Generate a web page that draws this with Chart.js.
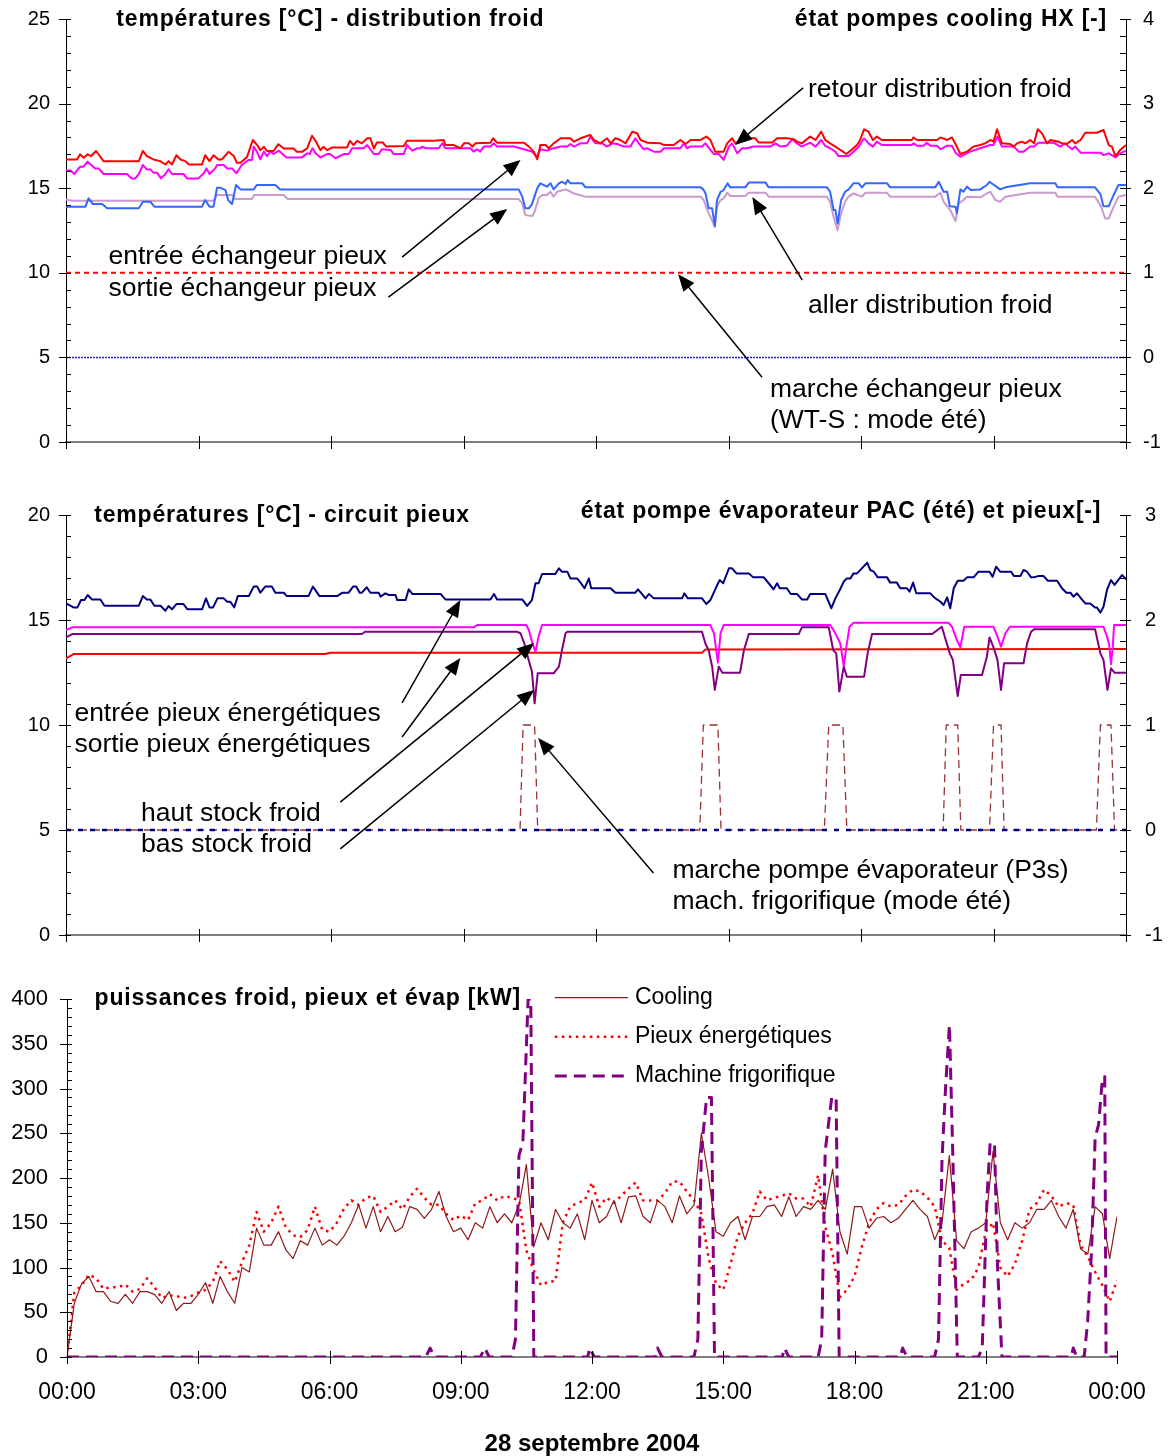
<!DOCTYPE html>
<html>
<head>
<meta charset="utf-8">
<script src="https://cdn.jsdelivr.net/npm/chart.js@4.4.1/dist/chart.umd.min.js"></script>
<style>
  body { margin: 0; background: #fff; width: 1168px; height: 1456px; position: relative; overflow: hidden; }
  canvas { position: absolute; left: 0; }
</style>
</head>
<body>
<canvas id="c1" width="1168" height="470" style="top:0px"></canvas>
<canvas id="c2" width="1168" height="470" style="top:490px"></canvas>
<canvas id="c3" width="1168" height="481" style="top:975px"></canvas>
<script>
// ---- panel 1 : températures distribution froid, [heure, °C] ----
var retourDistrib = [[0,16.7],[0.25,16.7],[0.32,17.0],[0.4,16.8],[0.49,17.0],[0.57,16.9],[0.68,17.2],[0.85,16.6],[1.65,16.6],[1.74,17.2],[1.83,16.9],[1.98,16.7],[2.13,16.6],[2.25,16.4],[2.32,16.6],[2.4,16.4],[2.5,16.95],[2.59,16.7],[2.7,16.6],[2.78,16.4],[3.08,16.4],[3.15,16.95],[3.25,16.6],[3.34,16.95],[3.45,16.7],[3.53,16.7],[3.68,17.15],[3.8,16.9],[3.87,16.5],[3.95,16.5],[4.1,16.85],[4.23,17.85],[4.33,17.55],[4.4,17.25],[4.48,17.45],[4.55,17.2],[4.7,17.2],[4.81,17.6],[4.93,17.35],[5.15,17.35],[5.23,17.15],[5.34,17.15],[5.46,17.35],[5.57,18.1],[5.65,17.8],[5.76,17.25],[5.83,17.45],[5.91,17.25],[6.02,17.4],[6.36,17.4],[6.43,17.8],[6.51,17.55],[6.59,17.8],[6.7,17.65],[6.82,17.95],[6.89,17.95],[6.97,17.35],[7.04,17.7],[7.17,17.7],[7.25,17.46],[7.65,17.5],[7.72,17.81],[8.33,17.81],[8.55,17.85],[8.59,17.55],[8.78,17.55],[8.93,17.36],[9.01,17.65],[9.12,17.65],[9.2,17.46],[9.27,17.65],[9.61,17.69],[9.67,17.95],[9.76,17.69],[10.37,17.69],[10.48,17.46],[10.59,17.16],[10.67,16.71],[10.74,17.55],[10.86,17.55],[10.93,17.36],[11.04,17.65],[11.2,17.95],[11.42,17.95],[11.5,17.75],[11.65,17.95],[11.87,18.15],[11.95,17.85],[12.1,17.65],[12.25,17.95],[12.33,17.65],[12.44,17.95],[12.55,17.85],[12.67,17.65],[12.82,18.34],[12.93,18.25],[13.01,17.85],[13.16,17.69],[13.46,17.65],[13.54,17.55],[13.76,17.55],[13.91,17.85],[14.03,17.61],[14.14,17.85],[14.37,17.85],[14.5,18.05],[14.59,17.85],[14.7,17.16],[14.89,17.16],[14.97,17.65],[15.08,17.95],[15.16,17.65],[15.27,17.85],[15.42,17.95],[15.61,17.95],[15.68,17.7],[15.99,17.7],[16.1,17.95],[16.32,17.95],[16.47,17.9],[16.55,17.75],[16.66,17.65],[16.85,18.05],[16.97,17.85],[17.1,18.34],[17.19,17.85],[17.3,17.65],[17.42,17.46],[17.53,17.26],[17.67,17.02],[17.8,17.3],[17.91,17.55],[17.98,17.85],[18.07,18.48],[18.17,18.34],[18.27,17.85],[18.36,18.05],[18.47,17.85],[19.15,17.85],[19.19,18.0],[19.27,17.85],[19.72,17.85],[19.8,18.0],[19.95,17.85],[20.06,18.0],[20.17,17.46],[20.25,17.02],[20.4,17.16],[20.55,17.46],[20.7,17.55],[20.81,17.65],[20.93,17.85],[21.0,17.75],[21.08,18.48],[21.19,17.65],[21.38,17.61],[21.46,17.46],[21.53,17.65],[21.64,17.75],[21.72,17.65],[21.83,17.85],[21.92,17.65],[22.0,18.48],[22.1,18.24],[22.21,17.65],[22.29,17.85],[22.47,17.75],[22.55,17.65],[22.66,17.61],[22.78,17.85],[22.85,17.65],[22.97,17.85],[23.08,18.28],[23.34,18.28],[23.49,18.44],[23.61,17.55],[23.68,17.46],[23.76,16.9],[23.87,17.26],[24,17.55]];
var entreeEchangeur = [[0,16.04],[0.1,16.04],[0.19,15.84],[0.32,16.27],[0.4,16.27],[0.49,16.57],[0.66,16.17],[0.74,16.17],[0.85,15.84],[1.38,15.84],[1.49,15.58],[1.57,15.58],[1.65,15.84],[1.74,16.37],[1.83,16.11],[1.91,16.11],[1.98,15.92],[2.06,15.92],[2.15,15.58],[2.25,15.84],[2.32,16.11],[2.4,15.84],[2.66,15.84],[2.74,15.58],[3.0,15.58],[3.12,15.88],[3.18,16.17],[3.25,15.84],[3.38,16.17],[3.42,16.37],[3.57,16.37],[3.65,16.17],[3.76,16.17],[3.86,15.88],[3.98,16.37],[4.13,16.67],[4.21,16.67],[4.25,17.46],[4.32,17.16],[4.4,16.71],[4.48,17.16],[4.55,16.9],[4.63,17.16],[4.7,17.02],[4.82,17.22],[4.99,16.82],[5.34,16.82],[5.46,17.06],[5.52,17.02],[5.58,17.36],[5.65,17.06],[5.76,16.82],[5.91,17.02],[5.98,17.02],[6.1,16.77],[6.29,17.02],[6.4,17.02],[6.48,17.36],[6.74,17.36],[6.82,17.55],[6.97,17.02],[7.08,17.02],[7.15,17.3],[7.35,17.26],[7.42,17.02],[7.65,17.02],[7.72,17.55],[7.84,17.22],[7.95,17.36],[8.03,17.36],[8.06,17.46],[8.14,17.36],[8.44,17.36],[8.52,17.65],[8.59,17.36],[9.16,17.36],[9.23,17.16],[9.31,17.3],[9.38,17.16],[9.46,17.46],[9.61,17.46],[9.69,17.65],[9.76,17.46],[10.14,17.46],[10.37,17.3],[10.55,17.16],[10.67,16.86],[10.74,17.3],[10.89,17.22],[11.04,17.36],[11.2,17.46],[11.35,17.46],[11.42,17.61],[11.5,17.46],[11.65,17.65],[11.8,17.65],[11.87,18.05],[11.99,17.65],[12.14,17.65],[12.25,17.46],[12.37,17.65],[12.48,17.61],[12.63,17.46],[12.78,17.46],[12.89,17.95],[12.97,17.65],[13.08,17.3],[13.16,17.36],[13.31,17.16],[13.46,17.16],[13.54,17.36],[13.91,17.36],[13.99,17.65],[14.06,17.36],[14.14,17.46],[14.4,17.46],[14.48,17.65],[14.59,17.26],[14.67,17.02],[14.78,17.02],[14.89,16.67],[15.01,17.46],[15.08,17.65],[15.2,17.06],[15.31,17.36],[15.42,17.36],[15.57,17.46],[15.95,17.46],[16.06,17.65],[16.18,17.46],[16.32,17.51],[16.44,17.89],[16.55,17.65],[16.66,17.46],[16.85,17.69],[16.97,17.46],[17.1,17.85],[17.19,17.5],[17.3,17.36],[17.42,17.16],[17.49,16.9],[17.72,16.9],[17.83,17.16],[17.95,17.46],[18.07,17.95],[18.17,17.65],[18.27,17.46],[18.36,17.75],[18.47,17.55],[19.15,17.55],[19.19,17.65],[19.27,17.51],[19.42,17.51],[19.49,17.69],[19.57,17.51],[19.72,17.51],[19.8,17.3],[19.95,17.51],[20.06,17.51],[20.14,17.1],[20.25,16.86],[20.32,16.96],[20.47,17.16],[20.7,17.36],[20.93,17.55],[21.0,17.55],[21.09,18.05],[21.19,17.46],[21.46,17.46],[21.57,17.16],[21.68,17.16],[21.83,17.46],[21.92,17.46],[22.02,17.69],[22.36,17.69],[22.51,17.46],[22.63,17.65],[22.7,17.46],[22.78,17.3],[22.85,17.46],[22.97,17.1],[23.42,17.1],[23.49,16.96],[23.61,17.06],[23.76,16.82],[23.87,17.06],[24,17.22]];
var allerDistrib = [[0,13.91],[0.44,13.91],[0.51,14.4],[0.61,14.06],[0.82,14.06],[0.93,13.81],[1.65,13.81],[1.74,14.2],[1.91,14.2],[2.0,13.91],[3.08,13.91],[3.15,14.3],[3.25,13.91],[3.34,13.91],[3.42,15.03],[3.49,15.03],[3.61,14.89],[3.67,14.3],[3.76,14.06],[3.85,15.19],[3.95,14.93],[4.25,14.93],[4.32,15.19],[4.74,15.19],[4.85,14.93],[10.25,14.93],[10.33,14.5],[10.4,13.81],[10.48,13.81],[10.55,14.06],[10.67,14.99],[10.74,15.29],[10.89,15.09],[10.97,15.29],[11.04,14.93],[11.16,15.29],[11.23,15.38],[11.31,15.25],[11.36,15.48],[11.42,15.29],[11.69,15.29],[11.76,15.05],[14.37,15.05],[14.43,14.93],[14.48,14.69],[14.55,13.81],[14.63,13.81],[14.69,12.76],[14.74,14.3],[14.82,14.79],[14.89,14.89],[14.98,15.29],[15.04,15.05],[15.38,15.05],[15.46,15.33],[15.84,15.33],[15.91,15.05],[17.23,15.05],[17.3,14.79],[17.38,13.71],[17.42,13.71],[17.47,12.92],[17.55,14.3],[17.64,14.79],[17.72,14.93],[17.83,15.29],[17.95,15.29],[18.02,15.05],[18.1,15.29],[18.59,15.29],[18.66,15.05],[19.68,15.05],[19.76,15.38],[19.87,14.79],[19.95,14.79],[20.01,13.94],[20.14,13.91],[20.17,13.51],[20.25,14.93],[20.32,14.79],[20.4,15.09],[20.49,14.89],[20.7,14.93],[20.85,15.19],[20.91,15.38],[21.15,14.93],[21.27,15.05],[21.83,15.29],[22.4,15.29],[22.45,15.05],[23.3,15.05],[23.42,14.65],[23.49,13.94],[23.61,13.94],[23.72,14.6],[23.83,15.19],[24,15.19]];
var sortieEchangeur = [[0,14.34],[0.14,14.26],[3.34,14.26],[3.42,14.6],[3.76,14.6],[3.83,14.36],[4.21,14.36],[4.26,14.6],[4.93,14.6],[5.02,14.36],[10.25,14.36],[10.33,14.1],[10.4,13.41],[10.55,13.35],[10.61,13.6],[10.7,14.4],[10.78,14.6],[10.89,14.6],[10.97,14.79],[11.04,14.5],[11.12,14.79],[11.31,14.93],[11.38,14.85],[11.5,14.69],[11.76,14.5],[14.37,14.5],[14.44,14.3],[14.52,13.71],[14.59,13.31],[14.69,12.72],[14.74,13.91],[14.82,14.3],[14.89,14.4],[14.97,14.73],[15.04,14.54],[15.38,14.54],[15.46,14.73],[15.84,14.73],[15.91,14.5],[17.23,14.5],[17.3,14.2],[17.38,13.31],[17.47,12.52],[17.55,13.51],[17.64,14.2],[17.72,14.5],[17.83,14.69],[18.02,14.5],[18.1,14.73],[18.59,14.73],[18.66,14.5],[19.68,14.5],[19.8,14.73],[19.87,14.2],[20.02,13.71],[20.14,13.06],[20.21,14.1],[20.32,14.3],[20.4,14.5],[20.7,14.46],[20.85,14.69],[20.93,14.79],[21.04,14.3],[21.15,14.2],[21.27,14.5],[21.83,14.73],[22.4,14.73],[22.45,14.5],[23.3,14.5],[23.42,14.0],[23.53,13.21],[23.61,13.21],[23.72,13.91],[23.83,14.5],[24,14.6]];
// états pompes (axe de droite)
var marcheEchangeur = [[0,1],[24,1]];
var pompesCooling = [[0,0],[24,0]];

// ---- panel 2 : circuit pieux ----
var entreePieux = [[0,15.79],[0.17,15.6],[0.26,15.6],[0.34,15.95],[0.42,15.95],[0.49,16.19],[0.59,15.98],[0.78,15.98],[0.87,15.68],[1.65,15.68],[1.74,16.14],[1.83,15.98],[1.91,15.98],[2.0,15.68],[2.14,15.68],[2.25,15.44],[2.32,15.67],[2.4,15.51],[2.5,15.76],[2.66,15.76],[2.75,15.51],[3.08,15.51],[3.17,16.03],[3.25,15.6],[3.33,15.6],[3.43,16.03],[3.57,16.03],[3.65,15.87],[3.72,15.87],[3.81,15.6],[3.89,16.14],[4.14,16.14],[4.25,16.59],[4.33,16.59],[4.4,16.3],[4.51,16.59],[4.66,16.59],[4.74,16.3],[4.93,16.3],[5.0,16.14],[5.49,16.14],[5.59,16.59],[5.74,16.14],[6.14,16.14],[6.26,16.3],[6.4,16.3],[6.5,16.59],[6.57,16.59],[6.65,16.3],[6.7,16.3],[6.81,16.56],[6.89,16.3],[7.08,16.3],[7.12,16.11],[7.23,16.27],[7.31,16.19],[7.46,16.19],[7.5,15.95],[7.69,15.95],[7.76,16.46],[7.84,16.24],[8.48,16.24],[8.59,15.98],[9.61,15.98],[9.69,16.24],[9.76,15.98],[10.33,15.98],[10.44,15.67],[10.55,15.95],[10.63,16.75],[10.7,16.75],[10.78,17.19],[11.08,17.19],[11.16,17.46],[11.23,17.3],[11.35,17.3],[11.42,16.98],[11.57,16.98],[11.65,16.78],[11.74,16.51],[11.84,16.98],[11.89,16.51],[12.33,16.51],[12.44,16.3],[12.89,16.3],[12.95,16.46],[13.04,16.24],[13.12,16.03],[13.2,16.24],[13.31,16.03],[13.95,16.03],[14.0,16.27],[14.08,16.03],[14.4,16.03],[14.5,15.76],[14.59,15.95],[14.71,16.51],[14.8,16.9],[14.88,16.75],[15.01,17.46],[15.08,17.46],[15.18,17.22],[15.46,17.22],[15.56,17.03],[15.8,17.03],[15.91,16.75],[16.02,16.46],[16.1,16.75],[16.16,16.51],[16.32,16.51],[16.41,16.24],[16.55,16.24],[16.66,15.98],[16.78,15.98],[16.85,16.24],[17.19,16.24],[17.33,15.56],[17.42,16.03],[17.52,16.43],[17.61,16.83],[17.68,16.98],[17.76,16.98],[17.83,17.22],[17.91,17.22],[18.02,17.46],[18.14,17.73],[18.21,17.38],[18.29,17.3],[18.38,17.03],[18.59,17.03],[18.66,16.78],[18.81,16.78],[18.89,16.51],[19.04,16.51],[19.1,16.35],[19.18,16.78],[19.25,16.27],[19.57,16.27],[19.64,16.11],[19.72,15.98],[19.8,15.87],[19.87,15.71],[19.95,16.08],[20.02,15.56],[20.1,16.51],[20.19,16.87],[20.32,16.87],[20.4,17.03],[20.55,17.03],[20.66,17.3],[20.91,17.3],[20.98,17.06],[21.06,17.54],[21.15,17.3],[21.4,17.3],[21.46,17.1],[21.61,17.1],[21.68,17.38],[21.76,17.3],[21.85,17.03],[21.92,17.03],[22.02,17.1],[22.13,17.1],[22.23,16.87],[22.44,16.87],[22.55,16.51],[22.65,16.3],[22.74,16.3],[22.81,16.11],[22.89,16.27],[23.0,15.98],[23.08,15.79],[23.19,15.79],[23.3,15.6],[23.34,15.6],[23.42,15.35],[23.49,15.63],[23.57,16.43],[23.66,16.9],[23.74,16.67],[23.91,17.14],[24,16.94]];
var hautStock = [[0,14.52],[0.14,14.65],[9.23,14.65],[9.31,14.76],[10.42,14.76],[10.48,14.52],[10.55,13.97],[10.63,13.49],[10.7,14.21],[10.78,14.76],[14.59,14.76],[14.67,14.37],[14.76,12.97],[14.82,14.37],[14.89,14.76],[17.3,14.76],[17.38,14.52],[17.53,13.89],[17.61,12.81],[17.67,13.73],[17.74,14.68],[17.83,14.87],[19.98,14.87],[20.06,14.68],[20.17,14.05],[20.25,13.7],[20.34,14.68],[21.0,14.68],[21.09,14.21],[21.17,13.73],[21.27,14.37],[21.37,14.68],[23.49,14.68],[23.57,14.21],[23.62,13.81],[23.66,12.9],[23.7,13.73],[23.73,14.76],[24,14.76]];
var basStock = [[0,14.17],[0.14,14.33],[6.7,14.33],[6.77,14.44],[10.21,14.44],[10.29,14.37],[10.38,13.86],[10.48,13.06],[10.55,12.54],[10.61,11.03],[10.68,12.46],[11.04,12.46],[11.16,12.78],[11.23,13.57],[11.31,14.37],[11.35,14.44],[14.4,14.44],[14.48,13.86],[14.55,13.57],[14.63,12.78],[14.69,11.67],[14.78,12.78],[14.86,12.49],[15.26,12.49],[15.35,13.57],[15.46,14.33],[16.59,14.33],[16.66,14.65],[17.27,14.65],[17.37,13.57],[17.44,13.41],[17.51,11.59],[17.61,12.78],[17.68,12.3],[18.07,12.3],[18.15,13.41],[18.25,14.33],[19.61,14.33],[19.83,14.68],[20.01,13.41],[20.08,13.1],[20.19,11.38],[20.26,12.38],[20.74,12.38],[20.85,13.25],[20.91,14.17],[21.0,13.7],[21.09,13.1],[21.17,11.67],[21.24,12.94],[21.68,12.94],[21.76,13.89],[21.85,14.44],[21.92,14.56],[23.3,14.56],[23.42,13.41],[23.49,13.1],[23.58,11.67],[23.66,12.7],[23.74,12.49],[24,12.49]];
var sortiePieux = [[0,13.17],[0.17,13.38],[5.87,13.38],[5.98,13.44],[14.4,13.44],[14.48,13.6],[24,13.62]];
var pompeEvap = [[0,0],[10.28,0],[10.35,1],[10.61,1],[10.68,0],[14.35,0],[14.43,1],[14.76,1],[14.83,0],[17.17,0],[17.27,1],[17.59,1],[17.68,0],[19.86,0],[19.93,1],[20.19,1],[20.26,0],[20.91,0],[21.0,1],[21.17,1],[21.24,0],[23.33,0],[23.42,1],[23.66,1],[23.74,0],[24,0]];
var pompePieux = [[0,0],[24,0]];

// ---- panel 3 : puissances [kW], une valeur toutes les 10 minutes ----
var pas10min = 1 / 6;
var cooling = [0,60,82,90,73,73,62,60,70,60,73,73,70,60,73,52,60,60,70,83,60,90,73,60,100,95,144,125,125,140,120,110,130,125,144,125,131,125,135,150,170,144,168,140,157,140,145,168,165,155,165,185,157,140,144,131,150,144,168,150,160,150,170,215,123,150,131,165,150,144,160,131,175,150,157,175,150,179,180,157,150,175,168,150,180,160,170,250,200,140,135,150,157,131,157,157,168,170,157,179,157,168,165,175,165,210,140,115,168,168,144,155,157,150,155,165,175,165,157,131,150,225,130,121,140,144,150,230,150,131,150,144,150,165,165,175,157,144,165,121,115,168,160,110,157];
var pieux = [0,72,80,92,88,76,78,78,81,73,76,88,78,66,69,68,66,68,72,75,84,107,98,84,106,125,162,140,150,168,145,136,134,142,168,142,140,150,166,175,170,178,180,162,168,175,165,179,188,178,170,170,160,153,158,153,172,175,182,175,180,178,175,119,97,80,84,85,150,168,172,175,195,168,178,172,180,188,195,175,175,175,183,196,196,185,175,160,110,82,75,104,135,150,160,185,175,178,180,183,177,177,168,203,145,115,67,75,90,123,150,165,172,168,170,180,187,185,178,168,130,122,75,82,86,100,140,150,100,90,104,130,165,172,187,180,168,172,170,125,112,95,80,62,86];
var machineFrigo = [[0,0],[8.2,0],[8.3,10],[8.4,0],[9.45,0],[9.55,10],[9.65,0],[10.17,0],[10.25,20],[10.33,225],[10.42,240],[10.54,400],[10.6,400],[10.67,0],[11.9,0],[11.95,10],[12.05,0],[13.45,0],[13.5,10],[13.6,0],[14.33,0],[14.42,20],[14.5,230],[14.62,290],[14.73,290],[14.8,0],[16.35,0],[16.4,10],[16.5,0],[17.17,0],[17.25,20],[17.33,230],[17.48,290],[17.58,290],[17.65,0],[19.05,0],[19.1,10],[19.2,0],[19.83,0],[19.92,20],[20.0,220],[20.08,300],[20.17,371],[20.25,220],[20.35,0],[20.83,0],[20.92,10],[21.03,180],[21.1,239],[21.2,239],[21.27,100],[21.37,0],[22.95,0],[23.0,10],[23.08,0],[23.25,0],[23.33,40],[23.42,120],[23.5,245],[23.58,260],[23.67,313],[23.72,313],[23.75,0],[24,0]];

var FONT = '"Liberation Sans", Arial, sans-serif';
Chart.defaults.font.family = FONT;
Chart.defaults.color = '#000';

function xy(pairs) {
    return pairs.map(function (p) { return {x: p[0], y: p[1]}; });
}
function surGrille(vals, pas) {
    return vals.map(function (v, i) { return {x: i * pas, y: v}; });
}
function serie(label, data, color, width, dash, axis) {
    return {
        label: label, data: data, borderColor: color, backgroundColor: color,
        borderWidth: width, borderDash: dash || [], pointRadius: 0, tension: 0,
        fill: false, yAxisID: axis || 'y', borderJoinStyle: 'round'
    };
}
function axeX(h) {
    return {
        type: 'linear', min: 0, max: 24,
        ticks: {display: false, stepSize: 3},
        grid: {drawOnChartArea: false, drawTicks: false},
        border: {color: '#808080', width: 2},
        afterFit: function (s) { s.height = h; }
    };
}
// l'écart des étiquettes passe par une graduation invisible (ticks.padding gonflerait la marge haute)
function axeY(pos, min, max, step, w, size, gap) {
    return {
        type: 'linear', position: pos, min: min, max: max,
        ticks: {stepSize: step, padding: 0, font: {size: size}, color: '#000'},
        grid: {drawOnChartArea: false, drawTicks: true, tickLength: gap, tickColor: 'rgba(0,0,0,0)'},
        border: {color: '#000', width: 1},
        afterFit: function (s) { s.width = w; }
    };
}

// titres, flèches, petites graduations et légende dessinés en coordonnées de données
var decor = {
    id: 'decor',
    afterDraw: function (chart, args, o) {
        var ctx = chart.ctx, sx = chart.scales.x, sy = chart.scales.y;
        var px = function (h) { return sx.getPixelForValue(h); };
        var py = function (v) { return sy.getPixelForValue(v); };
        ctx.save();
        ctx.strokeStyle = '#000';
        ctx.lineWidth = 1;
        (o.marks || []).forEach(function (m) {
            var s = chart.scales[m.id];
            var n = Math.round((s.max - s.min) / m.minor);
            for (var i = 0; i <= n; i++) {
                var v = s.min + i * m.minor;
                var major = Math.abs(v / m.major - Math.round(v / m.major)) < 1e-6;
                var p = Math.round(s.getPixelForValue(v)) + 0.5;
                ctx.beginPath();
                if (m.id === 'x') {
                    ctx.moveTo(p, s.top - 6); ctx.lineTo(p, s.top + 7);
                } else if (s.position === 'left') {
                    ctx.moveTo(s.right - (major ? 7 : 0), p); ctx.lineTo(s.right + 5, p);
                } else {
                    ctx.moveTo(s.left - 6, p); ctx.lineTo(s.left + (major ? 5 : 0), p);
                }
                ctx.stroke();
            }
        });
        ctx.fillStyle = '#000';
        ctx.textBaseline = 'middle';
        (o.notes || []).forEach(function (n) {
            ctx.font = (n.bold ? 'bold ' : '') + n.size + 'px ' + FONT;
            if ('letterSpacing' in ctx) ctx.letterSpacing = n.bold ? '0.8px' : '0px';
            ctx.textAlign = n.align || 'left';
            ctx.fillText(n.t, px(n.h), py(n.v));
        });
        if ('letterSpacing' in ctx) ctx.letterSpacing = '0px';
        ctx.lineWidth = 1.5;
        (o.arrows || []).forEach(function (a) {
            var x1 = px(a[0]), y1 = py(a[1]), x2 = px(a[2]), y2 = py(a[3]);
            var ang = Math.atan2(y2 - y1, x2 - x1), c = Math.cos(ang), s = Math.sin(ang);
            ctx.beginPath();
            ctx.moveTo(x1, y1);
            ctx.lineTo(x2 - 10 * c, y2 - 10 * s);
            ctx.stroke();
            ctx.beginPath();
            ctx.moveTo(x2, y2);
            ctx.lineTo(x2 - 17 * c + 7 * s, y2 - 17 * s - 7 * c);
            ctx.lineTo(x2 - 17 * c - 7 * s, y2 - 17 * s + 7 * c);
            ctx.closePath();
            ctx.fill();
        });
        if (o.legend) {
            var L = o.legend;
            L.items.forEach(function (lab, i) {
                var ds = chart.data.datasets.filter(function (d) { return d.label === lab; })[0];
                var y = py(L.v - i * L.dv);
                ctx.save();
                ctx.strokeStyle = ds.borderColor;
                ctx.lineWidth = ds.borderWidth;
                ctx.setLineDash(ds.borderDash);
                ctx.beginPath();
                ctx.moveTo(px(L.h1), y);
                ctx.lineTo(px(L.h2), y);
                ctx.stroke();
                ctx.restore();
                ctx.font = L.size + 'px ' + FONT;
                ctx.textAlign = 'left';
                ctx.fillText(lab, px(L.ht), y);
            });
        }
        ctx.restore();
    }
};

var base = {
    responsive: false, animation: false, devicePixelRatio: 1,
    plugins: {legend: {display: false}, tooltip: {enabled: false}}
};
function opts(extra) {
    return Object.assign({}, base, extra, {plugins: Object.assign({}, base.plugins, extra.plugins)});
}

// panel 1
new Chart(document.getElementById('c1').getContext('2d'), {
    type: 'line',
    data: {datasets: [
        serie('retour distribution froid', xy(retourDistrib), '#ff0000', 2),
        serie('entrée échangeur pieux', xy(entreeEchangeur), '#ff00ff', 2),
        serie('aller distribution froid', xy(allerDistrib), '#3366ff', 2),
        serie('sortie échangeur pieux', xy(sortieEchangeur), '#cc99cc', 2),
        serie('marche échangeur pieux', xy(marcheEchangeur), '#ff0000', 2, [5, 4], 'y1'),
        serie('état pompes cooling', xy(pompesCooling), '#1f1fbf', 1.5, [2, 1], 'y1')
    ]},
    plugins: [decor],
    options: opts({
        layout: {padding: {top: 19, left: 0, right: 0, bottom: 0}},
        scales: {
            x: axeX(28),
            y: axeY('left', 0, 25, 5, 66, 20, 16),
            y1: axeY('right', -1, 4, 1, 42, 20, 17)
        },
        plugins: {decor: {
            marks: [{id: 'y', major: 5, minor: 1}, {id: 'y1', major: 1, minor: 0.2}, {id: 'x', major: 3, minor: 3}],
            notes: [
                {t: 'températures [°C] - distribution froid', h: 1.14, v: 24.95, bold: true, size: 23},
                {t: 'état pompes cooling HX [-]', h: 23.57, v: 24.95, bold: true, size: 23, align: 'right'},
                {t: 'retour distribution froid', h: 16.8, v: 20.8, size: 26.5},
                {t: 'entrée échangeur pieux', h: 0.96, v: 10.93, size: 26.5},
                {t: 'sortie échangeur pieux', h: 0.96, v: 9.09, size: 26.5},
                {t: 'aller distribution froid', h: 16.8, v: 8.03, size: 26.5},
                {t: 'marche échangeur pieux', h: 15.94, v: 3.12, size: 26.5},
                {t: '(WT-S : mode été)', h: 15.94, v: 1.28, size: 26.5}
            ],
            arrows: [[16.69, 20.93, 15.15, 17.56], [7.61, 10.93, 10.29, 16.67], [7.3, 8.56, 9.99, 13.77],
                     [16.67, 9.57, 15.54, 14.48], [15.76, 3.83, 13.86, 9.92]]
        }}
    })
});

// panel 2
new Chart(document.getElementById('c2').getContext('2d'), {
    type: 'line',
    data: {datasets: [
        serie('entrée pieux énergétiques', xy(entreePieux), '#000080', 2),
        serie('haut stock froid', xy(hautStock), '#ff00ff', 2),
        serie('bas stock froid', xy(basStock), '#800080', 2),
        serie('sortie pieux énergétiques', xy(sortiePieux), '#ff0000', 2),
        serie('marche pompe pieux', xy(pompePieux), '#000080', 2.5, [5, 7], 'y1'),
        serie('marche pompe évaporateur', xy(pompeEvap), '#993333', 1.3, [8, 5], 'y1')
    ]},
    plugins: [decor],
    options: opts({
        layout: {padding: {top: 25, left: 0, right: 0, bottom: 0}},
        scales: {
            x: axeX(25),
            y: axeY('left', 0, 20, 5, 66, 20, 16),
            y1: axeY('right', -1, 3, 1, 42, 20, 19)
        },
        plugins: {decor: {
            marks: [{id: 'y', major: 5, minor: 1}, {id: 'y1', major: 1, minor: 0.2}, {id: 'x', major: 3, minor: 3}],
            notes: [
                {t: 'températures [°C] - circuit pieux', h: 0.64, v: 19.95, bold: true, size: 23},
                {t: 'état pompe évaporateur PAC (été) et pieux[-]', h: 23.44, v: 20.14, bold: true, size: 23, align: 'right'},
                {t: 'entrée pieux énergétiques', h: 0.19, v: 10.52, size: 26.5},
                {t: 'sortie pieux énergétiques', h: 0.19, v: 9.05, size: 26.5},
                {t: 'haut stock froid', h: 1.7, v: 5.76, size: 26.5},
                {t: 'bas stock froid', h: 1.7, v: 4.29, size: 26.5},
                {t: 'marche pompe évaporateur (P3s)', h: 13.73, v: 3.05, size: 26.5},
                {t: 'mach. frigorifique (mode été)', h: 13.73, v: 1.57, size: 26.5}
            ],
            arrows: [[7.61, 11.05, 8.93, 15.95], [7.61, 9.43, 8.93, 13.19], [6.21, 6.33, 10.6, 13.9],
                     [6.21, 4.1, 10.6, 11.67], [13.3, 2.95, 10.69, 9.38]]
        }}
    })
});

// panel 3
new Chart(document.getElementById('c3').getContext('2d'), {
    type: 'line',
    data: {datasets: [
        serie('Machine frigorifique', xy(machineFrigo), '#800080', 3, [12, 7]),
        serie('Cooling', surGrille(cooling, pas10min), '#8b1a1a', 1.2),
        serie('Pieux énergétiques', surGrille(pieux, pas10min), '#ff0000', 2.5, [2.5, 4.5])
    ]},
    plugins: [decor],
    options: opts({
        layout: {padding: {top: 24, left: 0, right: 51, bottom: 0}},
        scales: {
            x: {
                type: 'linear', min: 0, max: 24,
                ticks: {
                    stepSize: 3, padding: 0, font: {size: 23}, maxRotation: 0, autoSkip: false,
                    callback: function (v) { var h = v % 24; return (h < 10 ? '0' : '') + h + ':00'; }
                },
                grid: {drawOnChartArea: false, drawTicks: true, tickLength: 22, tickColor: 'rgba(0,0,0,0)'},
                border: {color: '#808080', width: 2},
                title: {display: true, text: '28 septembre 2004', font: {size: 24, weight: 'bold', lineHeight: 1}, padding: 0},
                afterFit: function (s) { s.height = 99; }
            },
            y: axeY('left', 0, 400, 50, 67, 22, 19)
        },
        plugins: {decor: {
            marks: [{id: 'y', major: 50, minor: 10}, {id: 'x', major: 3, minor: 3}],
            notes: [
                {t: 'puissances froid, pieux et évap [kW]', h: 0.63, v: 400.3, bold: true, size: 23}
            ],
            legend: {items: ['Cooling', 'Pieux énergétiques', 'Machine frigorifique'],
                     h1: 11.15, h2: 12.82, ht: 12.98, v: 401.5, dv: 43.7, size: 23}
        }}
    })
});
</script>
</body>
</html>
